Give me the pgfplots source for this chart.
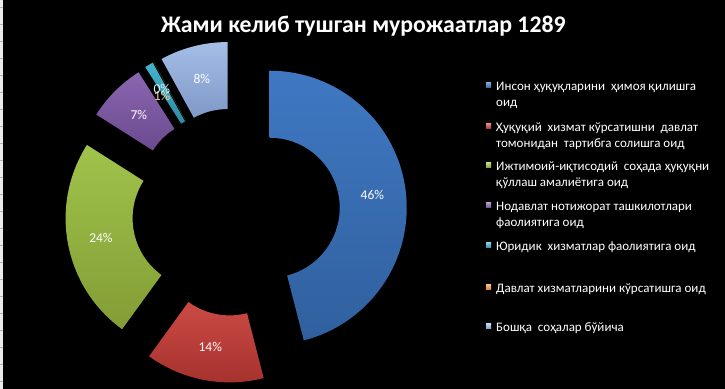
\documentclass[border=0pt]{standalone}
\usepackage{fontspec}
\setmainfont{Carlito}
\usepackage{pgfplots}
\usepackage{pgfplotstable}
\pgfplotsset{compat=1.18}

\definecolor{c0}{HTML}{3F78C2}\definecolor{d0}{HTML}{30609E}
\definecolor{c1}{HTML}{CC4A45}\definecolor{d1}{HTML}{A3302C}
\definecolor{c2}{HTML}{A0C34B}\definecolor{d2}{HTML}{829D35}
\definecolor{c3}{HTML}{8A66B0}\definecolor{d3}{HTML}{6B4A8F}
\definecolor{c4}{HTML}{45B3CC}\definecolor{d4}{HTML}{2A8DA5}
\definecolor{c5}{HTML}{F79646}\definecolor{d5}{HTML}{D97A2C}
\definecolor{c6}{HTML}{A4BEE8}\definecolor{d6}{HTML}{8098C6}
\colorlet{lc0}{white}\colorlet{lc1}{white}\colorlet{lc2}{white}
\colorlet{lc3}{white}\definecolor{lc4}{HTML}{F5D6A2}\definecolor{lc5}{HTML}{DDF3F8}
\colorlet{lc6}{white}

% share of requests (percent), label nudges (px)
\pgfplotstableread{
pct ldx ldy
46  0   0
14  0   0
24  0   0
7   0   0
1   -4  -2
0   -8  3
8   0   0
}\data

\newcommand\V[2]{\csname #1#2\endcsname}
\newcommand\legfont{\fontsize{13bp}{15bp}\selectfont}

\begin{document}
\begin{tikzpicture}
\fill[black] (0,0) rectangle (725bp,389bp);
\fill[black!8] (0,0) rectangle (3bp,389bp);
\foreach \k in {0,...,22}{\fill[black!30] (0,{(389-7.3-17*\k)*1bp}) rectangle (3bp,{(389-7.3-17*\k-1)*1bp});}

\gdef\cum{0}
\foreach \i in {0,...,6}{%
  \pgfplotstablegetelem{\i}{pct}\of\data \let\vv\pgfplotsretval
  \pgfplotstablegetelem{\i}{ldx}\of\data \let\ldx\pgfplotsretval
  \pgfplotstablegetelem{\i}{ldy}\of\data \let\ldy\pgfplotsretval
  \pgfmathsetmacro\sA{90-3.6*\cum}
  \pgfmathsetmacro\eA{90-3.6*(\cum+\vv)}
  \pgfmathsetmacro\bA{(\sA+\eA)/2}
  \pgfmathsetmacro\ox{236+34*cos(\bA)}
  \pgfmathsetmacro\oy{177+34*sin(\bA)}
  \pgfmathsetmacro\osx{\ox+137*cos(\sA)}
  \pgfmathsetmacro\osy{\oy+137*sin(\sA)}
  \pgfmathsetmacro\iex{\ox+70*cos(\eA)}
  \pgfmathsetmacro\iey{\oy+70*sin(\eA)}
  \pgfmathsetmacro\lx{\ox+103.5*cos(\bA)+\ldx}
  \pgfmathsetmacro\ly{\oy+103.5*sin(\bA)+\ldy}
  \expandafter\xdef\csname s\i\endcsname{\sA}%
  \expandafter\xdef\csname e\i\endcsname{\eA}%
  \expandafter\xdef\csname osx\i\endcsname{\osx}%
  \expandafter\xdef\csname osy\i\endcsname{\osy}%
  \expandafter\xdef\csname iex\i\endcsname{\iex}%
  \expandafter\xdef\csname iey\i\endcsname{\iey}%
  \expandafter\xdef\csname lx\i\endcsname{\lx}%
  \expandafter\xdef\csname ly\i\endcsname{\ly}%
  \expandafter\xdef\csname pct\i\endcsname{\vv}%
  \pgfmathsetmacro\newcum{\cum+\vv}%
  \global\let\cum\newcum
}

\begin{axis}[x=1bp,y=1bp,xmin=0,xmax=725,ymin=0,ymax=389,
  hide axis,scale only axis,at={(0,0)},anchor=south west,clip=false]
\pgfplotsinvokeforeach{0,...,6}{
  \fill[top color=c#1,bottom color=d#1,draw=none]
    (axis cs:\V{osx}{#1},\V{osy}{#1})
    arc[start angle=\V{s}{#1},end angle=\V{e}{#1},radius=137bp]
    -- (axis cs:\V{iex}{#1},\V{iey}{#1})
    arc[start angle=\V{e}{#1},end angle=\V{s}{#1},radius=70bp] -- cycle;
}
\pgfplotsinvokeforeach{0,...,6}{
  \node[text=lc#1,inner sep=0,font=\fontsize{13.5bp}{15bp}\selectfont]
    at (axis cs:\V{lx}{#1},\V{ly}{#1}) {\V{pct}{#1}\%};
}
\end{axis}

\node[anchor=base,inner sep=0,text=white,font=\fontsize{23.8bp}{26bp}\selectfont\bfseries]
  at (363.4bp,356.7bp) {Жами келиб тушган мурожаатлар 1289};

\newcommand\legentry[4]{%
  \pgfmathsetmacro\yy{389-#2}%
  \pgfmathsetmacro\ym{389-#2+3}%
  \pgfmathsetmacro\yz{389-#2-16}%
  \fill[top color=c#1!70!white,bottom color=d#1] (486bp,\ym bp) rectangle ++(5bp,5bp);
  \node[anchor=base west,inner sep=0,text=white,font=\legfont] at (496bp,\yy bp) {#3};
  \node[anchor=base west,inner sep=0,text=white,font=\legfont] at (496bp,\yz bp) {#4};
}
\legentry{0}{91}{Инсон ҳуқуқларини~ ҳимоя қилишга}{оид}
\legentry{1}{132}{Ҳуқуқий~ хизмат кўрсатишни~ давлат}{томонидан~ тартибга солишга оид}
\legentry{2}{171}{Ижтимоий-иқтисодий~ соҳада ҳуқуқни}{қўллаш амалиётига оид}
\legentry{3}{211}{Нодавлат нотижорат ташкилотлари}{фаолиятига оид}
\legentry{4}{251}{Юридик~ хизматлар фаолиятига оид}{}
\legentry{5}{293}{Давлат хизматларини кўрсатишга оид}{}
\legentry{6}{332}{Бошқа~ соҳалар бўйича}{}

\pgfresetboundingbox
\useasboundingbox (0,0) rectangle (725bp,389bp);
\end{tikzpicture}
\end{document}
